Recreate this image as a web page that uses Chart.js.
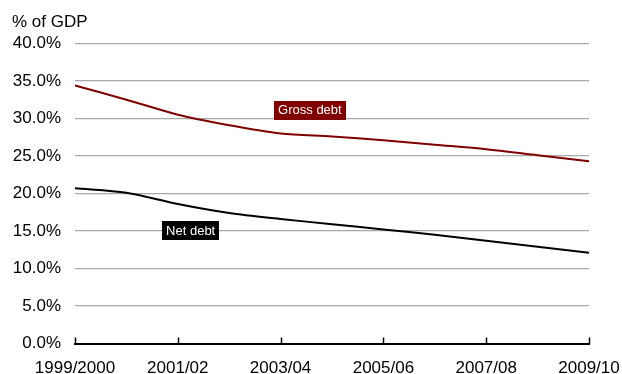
<!DOCTYPE html>
<html lang="en">
<head>
  <meta charset="UTF-8" />
  <title>Public sector debt, % of GDP</title>
  <script src="https://cdn.jsdelivr.net/npm/chart.js"></script>
  <style>
    html, body {
      margin: 0;
      padding: 0;
      background: #fff;
    }
    #wrap {
      width: 622px;
      height: 374px;
    }
  </style>
</head>
<body>
<div id="wrap"><canvas id="debtChart"></canvas></div>

<script>
// Fiscal years on the x axis
const years = ['1999/2000', '2000/01', '2001/02', '2002/03', '2003/04', '2004/05',
               '2005/06', '2006/07', '2007/08', '2008/09', '2009/10'];

// Debt as % of GDP
const grossDebt = [34.4, 32.5, 30.5, 29.1, 28.0, 27.6, 27.1, 26.5, 25.9, 25.1, 24.3];
const netDebt   = [20.7, 20.1, 18.6, 17.4, 16.6, 15.9, 15.2, 14.5, 13.7, 12.9, 12.1];

// Series labels placed on the plot (x as category index, y as % value)
const seriesLabels = [
  { text: 'Gross debt', x: 4.57, y: 31.1, bg: '#800000' },
  { text: 'Net debt',   x: 2.25, y: 15.0, bg: '#000000' }
];

const FONT = '"Liberation Sans", Arial, sans-serif';

// Short tick marks pointing up from the x axis, every second year
const insideTicks = {
  id: 'insideTicks',
  afterDatasetsDraw(chart) {
    const { ctx, scales: { x } } = chart;
    const yBase = chart.chartArea.bottom;
    ctx.save();
    ctx.strokeStyle = '#000';
    ctx.lineWidth = 1.5;
    x.ticks.forEach((t, i) => {
      if (i % 2) return;
      const px = Math.round(x.getPixelForTick(i)) + 0.5;
      ctx.beginPath();
      ctx.moveTo(px, yBase);
      ctx.lineTo(px, yBase - 6);
      ctx.stroke();
    });
    ctx.restore();
  }
};

// Boxed series names
const boxLabels = {
  id: 'boxLabels',
  afterDatasetsDraw(chart) {
    const { ctx, scales: { x, y } } = chart;
    ctx.save();
    ctx.font = '13px ' + FONT;
    ctx.textAlign = 'center';
    ctx.textBaseline = 'middle';
    seriesLabels.forEach(l => {
      const cx = x.getPixelForValue(l.x);
      const cy = y.getPixelForValue(l.y);
      const w = ctx.measureText(l.text).width + 8;
      const h = 19;
      ctx.fillStyle = l.bg;
      ctx.fillRect(Math.round(cx - w / 2), Math.round(cy - h / 2), Math.round(w), h);
      ctx.fillStyle = '#fff';
      ctx.fillText(l.text, cx, cy + 0.5);
    });
    ctx.restore();
  }
};

new Chart(document.getElementById('debtChart'), {
  type: 'line',
  data: {
    labels: years,
    datasets: [
      {
        label: 'Gross debt',
        data: grossDebt,
        borderColor: '#800000',
        borderWidth: 2,
        pointRadius: 0,
        tension: 0.3,
        fill: false
      },
      {
        label: 'Net debt',
        data: netDebt,
        borderColor: '#000000',
        borderWidth: 2,
        pointRadius: 0,
        tension: 0.3,
        fill: false
      }
    ]
  },
  options: {
    responsive: true,
    maintainAspectRatio: false,
    animation: false,
    layout: { padding: { left: 12, right: 33, top: 0, bottom: 0 } },
    plugins: {
      legend: { display: false },
      tooltip: { enabled: false },
      title: {
        display: true,
        text: '% of GDP',
        align: 'start',
        color: '#000',
        font: { family: FONT, size: 17, weight: 'normal' },
        padding: { top: 12, bottom: 11 }
      }
    },
    scales: {
      x: {
        offset: false,
        grid: { display: false },
        border: { display: true, color: '#000', width: 2 },
        ticks: {
          autoSkip: false,
          maxRotation: 0,
          color: '#000',
          padding: 7,
          font: { family: FONT, size: 17 },
          callback: function (val, i) { return i % 2 ? '' : this.getLabelForValue(val); }
        },
        afterFit: s => {
          s.height = 30.5;
          // let the last year label run into the right margin
          s.paddingLeft = 0;
          s.paddingRight = 0;
        }
      },
      y: {
        min: 0,
        max: 40,
        border: { display: false },
        grid: { color: '#a8a8a8', lineWidth: 1.2, drawTicks: false },
        ticks: {
          stepSize: 5,
          color: '#000',
          padding: 14,
          font: { family: FONT, size: 17 },
          callback: v => v.toFixed(1) + '%'
        },
        afterFit: s => { s.width = 63; }
      }
    }
  },
  plugins: [insideTicks, boxLabels]
});
</script>
</body>
</html>
